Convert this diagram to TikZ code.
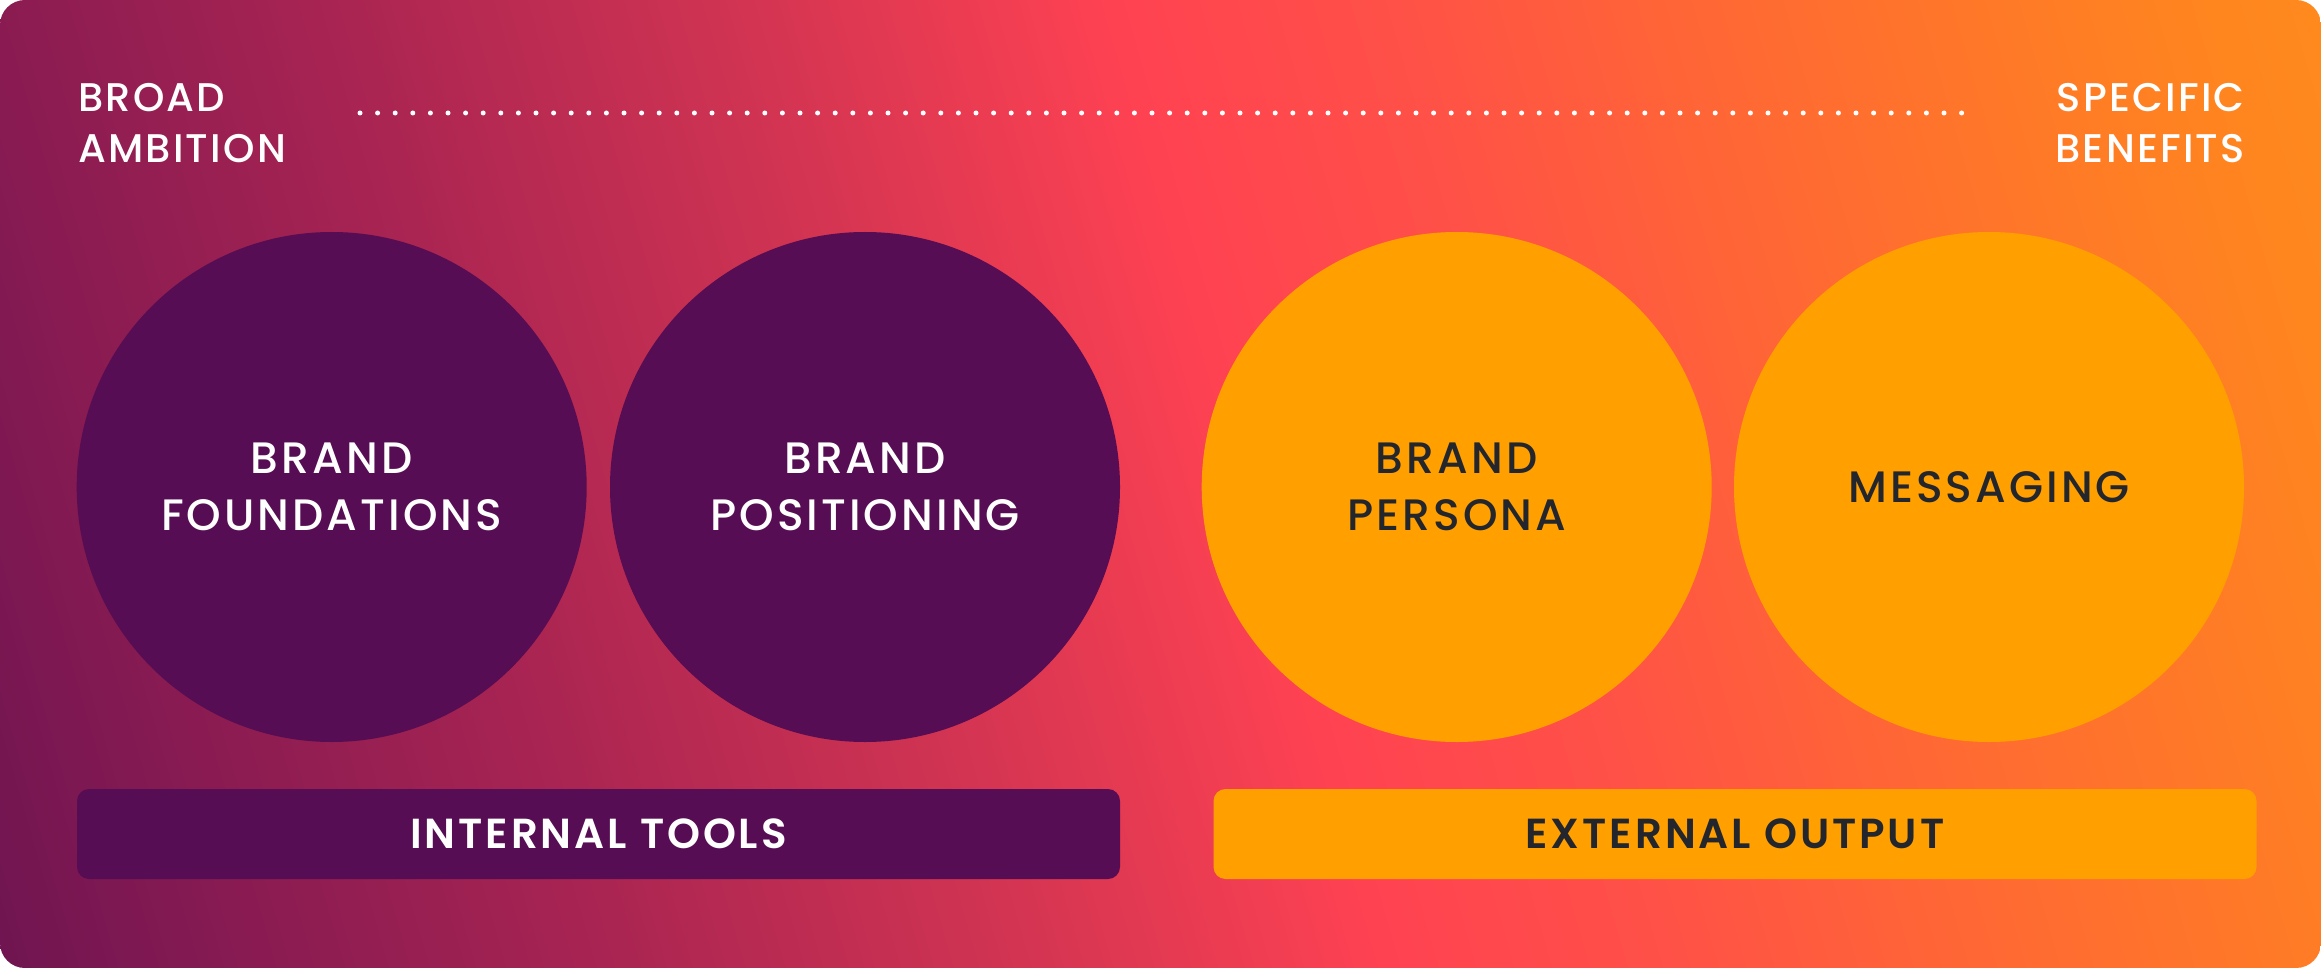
\documentclass[tikz,border=0pt]{standalone}
\usepackage{fontspec}
\setmainfont{Poppins}
\IfFontExistsTF{Poppins Medium}
  {\newfontfamily\medfont{Poppins Medium}[LetterSpace=7]
   \newfontfamily\labfont{Poppins Medium}[LetterSpace=5.5]}
  {\newfontfamily\medfont{Poppins}[LetterSpace=7, FakeBold=0.6]
   \newfontfamily\labfont{Poppins}[LetterSpace=7]}
\IfFontExistsTF{Poppins SemiBold}
  {\newfontfamily\semifont{Poppins SemiBold}[LetterSpace=7]}
  {\newfontfamily\semifont{Poppins}[LetterSpace=7, FakeBold=1.2]}
\definecolor{s0}{HTML}{6A1450}
\definecolor{s1}{HTML}{7E1852}
\definecolor{s2}{HTML}{A82452}
\definecolor{s3}{HTML}{D23452}
\definecolor{s4}{HTML}{FF4252}
\definecolor{s5}{HTML}{FF5048}
\definecolor{s6}{HTML}{FF6A32}
\definecolor{s7}{HTML}{FF8420}
\definecolor{s8}{HTML}{FF8C1C}
\definecolor{purp}{HTML}{570D53}
\definecolor{oran}{HTML}{FFA000}
\definecolor{ink}{HTML}{23262D}
\pgfdeclarehorizontalshading{bgshade}{100bp}{color(0bp)=(s0); color(25bp)=(s0); color(28.6bp)=(s1); color(37.1bp)=(s2); color(44.8bp)=(s3); color(51.7bp)=(s4); color(56.6bp)=(s5); color(63.3bp)=(s6); color(71.4bp)=(s7); color(75bp)=(s8); color(100bp)=(s8)}
\tikzset{
  disc/.style={circle, minimum size=510pt, inner sep=0pt, align=center, font=\medfont\fontsize{44}{57}\selectfont},
  bar/.style={rectangle, rounded corners=12pt, minimum width=1043pt, minimum height=90pt, inner sep=0pt, font=\semifont\fontsize{42}{50}\selectfont},
  toplabel/.style={inner sep=0pt, text=white, font=\labfont\fontsize{40}{51.5}\selectfont},
  dots/.style={white, line width=5pt, line cap=round, dash pattern=on 0pt off 17.6pt}
}
\begin{document}
\begin{tikzpicture}[x=1pt, y=-1pt]
\useasboundingbox (0,0) rectangle (2321,968);
\begin{scope}
\clip[rounded corners=25pt] (0,0) rectangle (2321,968);
\path[shading=bgshade, shading angle=16] (-139.5,-816) rectangle (2460.5,1784);
\end{scope}
\node[toplabel, anchor=north west, align=left] (broad) at (78,83) {BROAD\\AMBITION};
\node[toplabel, anchor=north east, align=right] (specific) at (2245,83) {SPECIFIC\\BENEFITS};
\coordinate (dl) at (360,113);
\coordinate (dr) at (1962,113);
\draw[dots] (dl) -- (dr);
\node[disc, fill=purp, text=white] (c1) at (331.7,487) {BRAND\\FOUNDATIONS};
\node[disc, fill=purp, text=white] (c2) at (865,487) {BRAND\\POSITIONING};
\node[disc, fill=oran, text=ink] (c3) at (1456.7,487) {BRAND\\PERSONA};
\node[disc, fill=oran, text=ink] (c4) at (1989,487) {MESSAGING};
\node[bar, fill=purp, text=white] (internal) at (598.5,834) {INTERNAL TOOLS};
\node[bar, fill=oran, text=ink] (external) at (1735,834) {EXTERNAL OUTPUT};
\end{tikzpicture}
\end{document}
